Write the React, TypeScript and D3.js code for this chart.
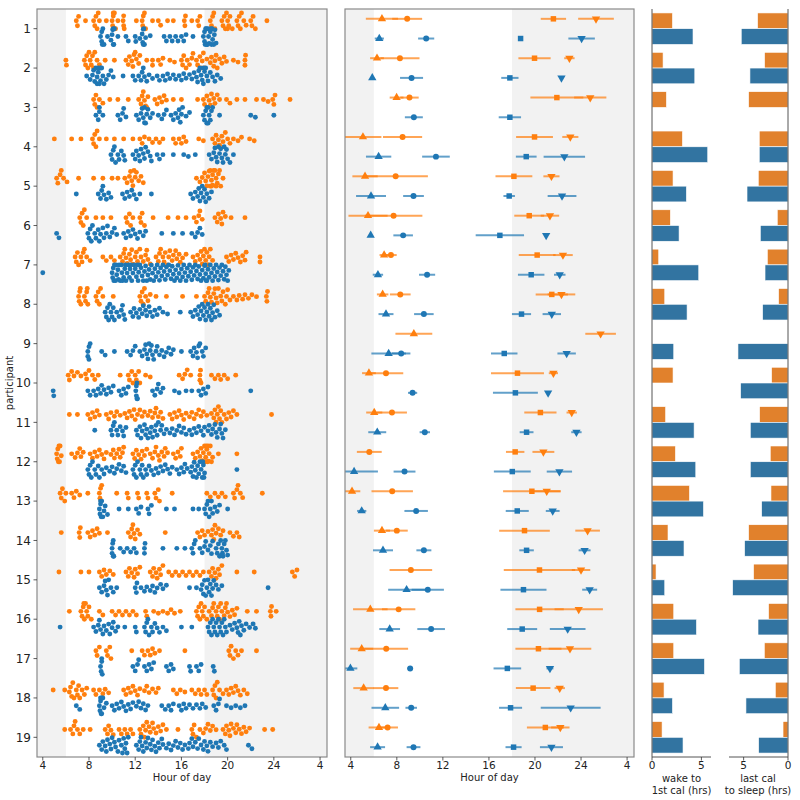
import React, { useMemo } from 'react';
import * as d3 from 'd3';

// ---------------- DATA ----------------
const participants = [1, 2, 3, 4, 5, 6, 7, 8, 9, 10, 11, 12, 13, 14, 15, 16, 17, 18, 19];
const hourTicks = [4, 8, 12, 16, 20, 24, 28];
const hourTickLabels = ['4', '8', '12', '16', '20', '24', '4'];
const barTicks = [0, 5];

// Swarm: times of each calorie event (hours; >24 = after midnight)
const orangeTimes: number[][] = [
  [6.9, 7.0, 7.1, 7.7, 8.4, 8.5, 8.6, 8.7, 8.8, 8.9, 9.5, 10.0, 10.05, 10.1, 10.1, 10.15, 10.2, 10.3, 10.5, 10.95, 11.0, 11.0, 11.05, 12.1, 12.6, 12.65, 12.7, 12.75, 12.8, 12.9, 13.5, 14.0, 14.2, 14.8, 15.3, 16.25, 16.3, 16.35, 16.9, 17.4, 17.5, 17.6, 18.5, 18.6, 18.7, 18.8, 18.9, 19.5, 19.6, 19.7, 19.8, 19.9, 20.0, 20.0, 20.1, 20.2, 20.4, 20.8, 20.9, 21.0, 21.1, 21.2, 21.4, 21.6, 22.0, 22.1, 22.2, 22.4, 23.4],
  [6.0, 6.05, 7.6, 7.7, 7.8, 7.9, 8.0, 8.1, 8.2, 8.3, 8.4, 8.5, 8.7, 8.9, 9.4, 10.2, 11.2, 11.4, 11.5, 11.7, 11.8, 11.9, 12.0, 12.1, 12.3, 12.4, 13.0, 13.5, 13.5, 14.0, 14.2, 14.4, 15.0, 15.4, 16.0, 16.1, 16.2, 16.4, 16.5, 16.7, 16.9, 17.0, 17.3, 17.4, 17.6, 17.7, 17.8, 17.9, 18.0, 18.2, 18.5, 18.6, 18.8, 18.9, 19.0, 19.1, 19.3, 19.5, 19.7, 19.9, 20.5, 20.9, 21.5, 21.5, 21.55],
  [8.4, 8.5, 8.6, 8.7, 8.9, 9.2, 9.8, 10.5, 11.4, 12.3, 12.5, 12.6, 12.7, 12.8, 12.9, 13.0, 13.1, 13.7, 13.9, 14.1, 14.3, 14.5, 14.7, 15.3, 16.0, 17.4, 17.9, 18.0, 18.2, 18.4, 18.5, 18.6, 18.8, 18.9, 19.1, 19.3, 19.9, 20.2, 20.8, 21.5, 22.5, 23.1, 23.5, 23.9, 24.0, 24.1, 25.4],
  [5.0, 6.5, 7.3, 8.3, 8.4, 8.5, 8.6, 8.7, 8.9, 9.5, 10.2, 11.0, 11.8, 12.4, 12.6, 12.8, 13.2, 13.5, 13.8, 14.1, 14.4, 15.3, 15.5, 15.8, 16.0, 16.2, 16.4, 17.5, 17.9, 18.7, 18.9, 19.0, 19.2, 19.3, 19.5, 19.6, 19.8, 20.0, 20.2, 20.5, 20.9, 21.2, 21.9, 22.3],
  [5.2, 5.3, 5.5, 5.6, 5.8, 6.1, 7.1, 8.4, 9.2, 10.0, 10.5, 11.1, 11.3, 11.5, 11.6, 11.7, 11.8, 11.9, 12.0, 12.1, 12.3, 12.5, 12.7, 17.3, 17.6, 17.8, 18.0, 18.1, 18.2, 18.3, 18.4, 18.5, 18.5, 18.6, 18.6, 18.7, 18.7, 18.8, 18.9, 19.0, 19.0, 19.1, 19.2, 19.3, 19.4, 19.6],
  [7.2, 7.3, 7.4, 7.5, 7.6, 7.8, 8.6, 9.2, 9.9, 11.2, 11.3, 11.5, 11.6, 11.8, 12.4, 12.5, 12.6, 12.8, 13.55, 14.85, 15.7, 16.4, 17.1, 17.3, 17.5, 17.6, 17.8, 18.9, 19.1, 19.2, 19.4, 19.5, 19.6, 19.8, 20.3, 21.5],
  [6.8, 6.9, 7.0, 7.1, 7.3, 7.4, 7.5, 7.6, 7.8, 8.1, 9.2, 9.5, 9.9, 10.2, 10.7, 10.9, 11.0, 11.1, 11.2, 11.3, 11.5, 11.6, 11.7, 11.8, 12.0, 12.1, 12.2, 12.4, 12.5, 12.7, 12.9, 13.0, 13.1, 13.3, 13.8, 14.0, 14.1, 14.2, 14.4, 14.5, 14.6, 14.8, 14.9, 15.0, 15.2, 15.3, 15.5, 15.6, 15.8, 15.9, 16.1, 16.4, 17.0, 17.2, 17.4, 17.6, 17.7, 17.8, 17.9, 18.0, 18.1, 18.2, 18.3, 18.4, 18.5, 18.7, 19.9, 20.1, 20.3, 20.5, 20.7, 20.9, 21.1, 21.3, 21.5, 21.6, 22.8, 22.8],
  [7.1, 7.15, 7.2, 7.25, 7.3, 7.6, 7.7, 7.8, 7.85, 7.9, 8.6, 8.7, 8.8, 8.9, 9.0, 9.2, 10.1, 12.4, 12.5, 12.6, 12.7, 12.8, 12.9, 13.1, 13.3, 13.8, 14.7, 16.1, 17.3, 18.0, 18.1, 18.3, 18.4, 18.5, 18.6, 18.8, 18.9, 19.0, 19.1, 19.2, 19.4, 19.5, 19.6, 19.8, 19.9, 20.0, 20.2, 20.5, 20.8, 21.0, 21.3, 21.5, 21.8, 22.1, 22.5, 23.35, 23.4, 23.45],
  [],
  [6.2, 6.3, 6.5, 6.7, 7.0, 7.3, 7.7, 7.8, 8.0, 8.3, 8.5, 8.8, 10.7, 11.4, 11.5, 11.7, 11.8, 12.0, 12.1, 12.3, 12.4, 12.9, 13.3, 15.8, 16.1, 16.3, 16.5, 16.8, 17.6, 17.6, 17.65, 17.7, 18.6, 18.9, 19.2, 19.4, 19.7, 20.0, 20.7],
  [6.3, 7.0, 7.9, 8.1, 8.3, 8.5, 8.7, 8.9, 9.5, 9.7, 9.9, 10.2, 10.4, 10.7, 11.1, 11.3, 11.5, 11.7, 11.9, 12.0, 12.2, 12.4, 12.6, 12.8, 13.1, 13.3, 13.5, 13.7, 13.8, 14.0, 14.2, 14.4, 15.0, 15.2, 15.4, 15.6, 15.8, 16.0, 16.2, 16.4, 16.7, 16.9, 17.1, 17.3, 17.5, 17.7, 17.9, 18.2, 18.6, 18.8, 18.9, 19.0, 19.1, 19.2, 19.3, 19.4, 19.5, 19.7, 19.9, 20.1, 20.3, 20.5, 20.8, 23.8],
  [5.2, 5.25, 5.3, 5.35, 5.4, 5.45, 5.5, 5.6, 6.5, 6.8, 7.0, 7.2, 7.3, 7.5, 8.1, 8.3, 8.5, 8.7, 8.9, 9.1, 9.3, 9.5, 9.9, 10.1, 10.2, 10.4, 10.6, 10.7, 10.9, 11.0, 11.8, 11.95, 12.1, 12.3, 12.5, 12.6, 12.8, 13.0, 13.3, 13.5, 13.7, 13.8, 14.0, 14.1, 14.3, 14.5, 14.6, 14.8, 15.3, 15.5, 15.7, 15.9, 16.0, 17.0, 17.2, 17.4, 17.6, 17.7, 17.8, 17.9, 18.0, 18.05, 18.1, 18.15, 18.2, 18.25, 18.3, 18.35, 18.4, 18.5, 18.6, 18.7, 19.2, 20.8],
  [5.5, 5.6, 5.7, 5.9, 6.0, 6.5, 6.7, 6.9, 7.2, 7.9, 8.9, 8.95, 9.0, 9.05, 9.1, 10.4, 11.3, 11.4, 12.2, 12.3, 13.0, 13.1, 13.7, 13.8, 14.0, 14.1, 15.2, 18.2, 18.5, 18.9, 19.2, 19.5, 19.8, 20.5, 20.6, 20.8, 20.9, 21.1, 21.3, 23.0],
  [5.6, 7.15, 7.2, 7.25, 7.9, 8.1, 8.3, 8.5, 8.7, 8.9, 9.6, 11.4, 11.6, 11.7, 11.8, 11.9, 12.0, 12.2, 12.4, 14.6, 17.4, 17.6, 17.8, 18.0, 18.3, 18.6, 18.7, 18.8, 18.9, 19.0, 19.2, 19.4, 19.6, 20.2, 20.5, 20.8, 21.0],
  [5.4, 7.3, 8.0, 8.9, 9.1, 9.3, 9.5, 9.8, 10.1, 11.2, 11.4, 11.5, 11.7, 11.9, 12.0, 12.2, 12.4, 13.3, 13.5, 13.6, 13.8, 13.9, 14.1, 14.2, 14.4, 14.9, 15.2, 15.5, 15.8, 16.1, 16.4, 16.7, 17.0, 17.3, 17.6, 17.9, 18.4, 18.6, 18.7, 18.9, 19.0, 19.2, 19.3, 19.5, 20.8, 22.3, 25.6, 25.8, 26.0],
  [6.3, 7.3, 7.4, 7.5, 7.55, 7.6, 7.7, 7.8, 7.9, 8.0, 8.2, 8.9, 9.2, 10.0, 10.3, 10.6, 10.9, 11.2, 11.5, 11.8, 12.1, 12.9, 13.0, 13.6, 14.0, 14.4, 14.8, 15.1, 15.4, 15.9, 17.3, 17.4, 17.5, 17.6, 17.7, 17.8, 17.9, 18.0, 18.2, 18.4, 18.6, 18.7, 18.8, 19.0, 19.1, 19.2, 19.3, 19.4, 19.5, 19.7, 19.8, 19.9, 20.0, 20.2, 20.4, 20.6, 20.8, 21.7, 22.5, 23.7, 23.75, 23.8, 24.2],
  [8.6, 8.7, 8.9, 9.5, 9.6, 9.8, 9.9, 11.7, 12.6, 12.8, 13.1, 13.3, 13.5, 13.7, 14.1, 16.3, 20.1, 20.2, 20.3, 20.5, 20.7, 20.9, 21.2, 22.5],
  [4.9, 5.9, 6.3, 6.4, 6.5, 6.6, 6.7, 6.9, 7.0, 7.1, 7.2, 7.4, 7.6, 7.8, 8.4, 8.6, 8.9, 9.2, 9.4, 9.7, 11.0, 11.2, 11.4, 11.6, 11.8, 12.0, 12.2, 12.4, 12.8, 13.0, 13.2, 13.5, 13.8, 14.0, 15.3, 15.6, 15.9, 16.3, 16.9, 17.2, 17.5, 17.7, 18.0, 18.2, 18.7, 18.8, 18.9, 19.0, 19.1, 19.3, 19.6, 19.9, 20.1, 20.3, 20.5, 20.7, 20.9, 21.1, 21.4, 21.7],
  [5.9, 6.4, 6.6, 6.7, 6.8, 7.0, 7.2, 7.5, 8.1, 9.4, 9.6, 9.7, 9.9, 10.1, 10.6, 10.8, 11.1, 11.3, 11.6, 11.8, 12.4, 12.5, 12.7, 12.8, 12.9, 13.0, 13.2, 13.3, 13.5, 13.6, 13.8, 14.0, 14.2, 14.4, 14.7, 15.7, 16.9, 17.0, 17.1, 17.3, 17.6, 17.9, 18.1, 18.3, 18.5, 18.7, 19.0, 19.6, 19.8, 19.9, 20.1, 20.2, 20.3, 20.5, 20.7, 20.8, 21.0, 21.2, 21.4, 21.6, 21.9, 23.2, 23.9],
];

const blueTimes: number[][] = [
  [9.0, 9.1, 9.1, 9.15, 9.2, 9.3, 9.6, 9.9, 10.0, 10.05, 10.1, 10.1, 10.15, 10.2, 10.5, 11.2, 11.4, 12.0, 12.05, 12.4, 12.6, 12.65, 12.7, 12.7, 12.75, 12.8, 12.9, 13.3, 14.5, 14.7, 15.0, 15.2, 15.5, 15.7, 16.0, 16.2, 16.4, 17.0, 17.9, 18.0, 18.0, 18.05, 18.1, 18.15, 18.2, 18.25, 18.3, 18.35, 18.4, 18.5, 18.55, 18.6, 18.65, 18.7, 18.8, 18.85, 18.9, 19.0],
  [7.8, 8.1, 8.3, 8.4, 8.5, 8.6, 8.7, 8.7, 8.8, 8.8, 8.9, 9.0, 9.0, 9.1, 9.2, 9.3, 9.5, 9.7, 9.9, 10.1, 10.95, 11.8, 12.0, 12.3, 12.5, 12.6, 12.7, 12.8, 13.0, 13.2, 13.5, 13.9, 14.1, 14.4, 14.6, 14.8, 15.0, 15.3, 15.5, 15.8, 16.0, 16.2, 16.4, 16.7, 16.9, 17.1, 17.3, 17.4, 17.5, 17.6, 17.7, 17.8, 17.9, 17.9, 18.0, 18.1, 18.2, 18.3, 18.5, 18.7, 18.9, 19.1, 19.4],
  [8.6, 8.8, 8.9, 8.9, 9.2, 10.5, 10.7, 10.9, 11.0, 11.2, 12.1, 12.3, 12.5, 12.6, 12.7, 12.8, 12.8, 12.9, 13.0, 13.1, 13.3, 13.5, 14.0, 14.3, 14.5, 14.7, 15.1, 15.3, 15.5, 15.7, 15.8, 15.9, 16.0, 16.1, 16.4, 16.7, 17.9, 18.0, 18.1, 18.2, 18.2, 18.3, 18.3, 18.4, 18.5, 18.6, 18.7, 19.3, 22.0, 22.4, 24.0],
  [9.9, 10.0, 10.1, 10.2, 10.3, 10.5, 10.6, 10.8, 11.0, 11.1, 11.8, 12.0, 12.1, 12.3, 12.4, 12.5, 12.7, 12.8, 12.9, 13.1, 13.3, 13.4, 13.9, 14.1, 14.4, 15.3, 16.2, 16.6, 17.2, 18.4, 18.6, 18.8, 18.9, 19.0, 19.1, 19.2, 19.3, 19.4, 19.5, 19.6, 19.7, 19.8, 19.9, 20.0, 20.2, 20.5],
  [6.9, 8.8, 9.0, 9.1, 9.2, 9.3, 9.5, 9.7, 9.9, 10.9, 11.1, 11.3, 11.5, 11.7, 11.9, 12.1, 12.4, 13.4, 16.8, 17.0, 17.2, 17.4, 17.5, 17.6, 17.7, 17.8, 17.9, 18.0, 18.1, 18.2, 18.4, 18.6],
  [5.2, 5.4, 7.9, 8.0, 8.1, 8.2, 8.3, 8.5, 8.6, 8.8, 8.9, 9.0, 9.2, 9.3, 9.5, 9.6, 9.8, 10.0, 10.2, 10.4, 11.0, 11.2, 11.4, 11.6, 11.8, 12.0, 12.2, 12.4, 12.7, 12.9, 14.3, 15.3, 16.1, 16.9, 17.2, 17.4, 17.6, 17.8],
  [4.0, 10.0, 10.05, 10.1, 10.15, 10.2, 10.3, 10.35, 10.4, 10.5, 10.55, 10.6, 10.7, 10.8, 10.85, 10.9, 11.0, 11.1, 11.15, 11.2, 11.3, 11.4, 11.5, 11.55, 11.6, 11.7, 11.8, 11.9, 12.0, 12.1, 12.2, 12.25, 12.3, 12.4, 12.5, 12.6, 12.7, 12.8, 12.9, 13.0, 13.1, 13.2, 13.3, 13.4, 13.5, 13.6, 13.7, 13.8, 13.9, 14.0, 14.1, 14.2, 14.3, 14.4, 14.5, 14.6, 14.7, 14.8, 14.9, 15.0, 15.1, 15.2, 15.3, 15.4, 15.5, 15.6, 15.7, 15.8, 15.9, 16.0, 16.1, 16.2, 16.3, 16.4, 16.5, 16.6, 16.7, 16.8, 16.9, 17.0, 17.1, 17.2, 17.3, 17.4, 17.5, 17.6, 17.7, 17.8, 17.9, 18.0, 18.05, 18.1, 18.15, 18.2, 18.3, 18.4, 18.5, 18.6, 18.7, 18.8, 18.9, 19.0, 19.1, 19.2, 19.3, 19.4, 19.5, 19.6, 19.7, 19.8, 19.9, 20.0, 20.1],
  [9.4, 9.5, 9.6, 9.7, 9.8, 9.9, 10.0, 10.1, 10.2, 10.4, 10.6, 10.8, 10.9, 11.0, 11.1, 11.6, 11.8, 11.9, 12.1, 12.3, 12.4, 12.6, 12.7, 12.9, 13.0, 13.2, 13.3, 13.5, 13.7, 13.9, 14.1, 14.4, 14.8, 15.9, 16.8, 17.0, 17.2, 17.4, 17.5, 17.6, 17.7, 17.8, 17.9, 18.0, 18.1, 18.2, 18.3, 18.4, 18.5, 18.6, 18.7, 18.8, 18.9, 19.1, 19.3],
  [7.9, 7.9, 8.0, 8.0, 8.1, 9.1, 9.4, 10.2, 11.3, 11.6, 11.8, 12.0, 12.4, 12.6, 12.8, 12.9, 13.0, 13.1, 13.2, 13.3, 13.4, 13.5, 13.6, 13.8, 13.9, 14.1, 14.3, 14.5, 14.7, 14.9, 15.1, 15.3, 16.0, 16.8, 17.0, 17.1, 17.3, 17.4, 17.5, 17.6, 17.8, 17.9, 18.1],
  [4.9, 4.95, 7.9, 8.1, 8.4, 8.6, 8.8, 9.0, 9.1, 9.3, 9.5, 9.7, 9.9, 10.1, 10.6, 10.8, 11.0, 11.2, 11.4, 12.05, 12.1, 12.1, 12.15, 12.15, 12.2, 13.5, 13.7, 13.9, 14.0, 14.2, 14.4, 15.4, 15.8, 16.4, 16.9, 17.5, 17.7, 17.9, 18.1, 18.3, 22.0],
  [8.5, 9.9, 10.0, 10.1, 10.2, 10.4, 10.5, 10.7, 10.9, 11.0, 11.2, 12.1, 12.2, 12.4, 12.5, 12.6, 12.8, 12.9, 13.0, 13.1, 13.3, 13.4, 13.5, 13.7, 13.8, 13.9, 14.0, 14.2, 14.3, 14.5, 14.7, 15.0, 15.2, 15.4, 15.6, 15.8, 16.0, 16.2, 16.4, 16.7, 16.9, 17.1, 17.3, 17.5, 17.7, 17.9, 18.0, 18.3, 18.4, 18.6, 18.7, 18.9, 19.0, 19.1, 19.3, 19.4, 19.5, 19.6, 19.8],
  [7.9, 8.0, 8.1, 8.2, 8.3, 8.5, 8.6, 8.8, 8.9, 9.1, 9.3, 9.5, 9.8, 10.0, 10.2, 10.4, 10.6, 10.8, 11.0, 11.2, 11.8, 11.9, 12.0, 12.1, 12.2, 12.4, 12.5, 12.6, 12.7, 12.9, 13.0, 13.2, 13.4, 13.6, 13.8, 14.0, 14.2, 14.4, 14.6, 14.8, 15.0, 15.2, 15.6, 15.8, 16.0, 16.2, 16.3, 16.5, 16.8, 16.9, 17.0, 17.1, 17.2, 17.3, 17.4, 17.5, 17.6, 17.7, 17.8, 17.85, 17.9, 17.95, 18.0, 20.8],
  [8.9, 8.95, 9.0, 9.0, 9.05, 9.1, 9.2, 9.3, 9.4, 9.6, 10.6, 11.4, 12.1, 12.3, 12.5, 13.1, 13.2, 13.4, 14.7, 15.4, 17.0, 17.5, 18.0, 18.1, 18.2, 18.3, 18.4, 18.5, 18.6, 18.7, 18.9, 19.1, 19.3, 20.0],
  [10.0, 10.0, 10.05, 10.1, 10.1, 10.15, 10.7, 11.0, 11.3, 11.6, 11.9, 12.1, 12.8, 12.8, 12.85, 14.4, 15.6, 16.3, 16.9, 17.0, 17.1, 17.2, 17.6, 17.8, 18.0, 18.1, 18.3, 18.5, 18.6, 18.7, 19.0, 19.1, 19.2, 19.3, 19.4, 19.5, 19.55, 19.6, 19.7, 19.8, 19.9, 20.0],
  [8.9, 9.1, 9.3, 9.4, 9.5, 9.6, 9.7, 9.9, 10.1, 10.4, 12.0, 12.1, 12.15, 12.5, 12.8, 13.0, 13.3, 13.5, 13.7, 13.9, 14.2, 14.4, 14.7, 16.7, 17.3, 17.7, 17.8, 17.9, 18.0, 18.1, 18.2, 18.3, 18.4, 18.5, 18.6, 18.7, 18.8, 19.0, 19.2, 19.5, 23.5],
  [5.5, 8.4, 8.6, 8.8, 8.9, 9.0, 9.2, 9.3, 9.5, 9.7, 9.8, 10.0, 10.1, 10.3, 10.5, 11.1, 12.0, 12.1, 12.8, 12.9, 13.0, 13.1, 13.2, 13.4, 13.5, 13.7, 13.9, 14.1, 14.4, 14.7, 16.0, 16.9, 18.3, 18.4, 18.5, 18.6, 18.7, 18.8, 18.9, 19.0, 19.1, 19.2, 19.3, 19.4, 19.5, 19.6, 19.7, 19.8, 19.9, 20.2, 20.4, 20.6, 20.8, 20.9, 21.0, 21.1, 21.2, 21.4, 21.6, 21.9, 22.2, 22.4],
  [9.0, 9.05, 9.1, 9.1, 9.15, 11.8, 12.0, 12.2, 12.3, 12.8, 13.0, 13.2, 13.4, 13.6, 14.7, 14.9, 15.1, 15.3, 16.7, 16.8, 17.3, 17.5, 17.7, 18.75, 18.85],
  [6.9, 7.2, 8.9, 8.95, 9.0, 9.0, 9.05, 9.1, 9.1, 9.2, 9.3, 9.5, 10.0, 10.2, 10.4, 10.6, 10.8, 11.0, 11.2, 11.4, 11.6, 11.8, 12.1, 12.3, 12.5, 12.7, 12.9, 13.1, 14.3, 14.6, 14.9, 15.1, 15.3, 15.8, 16.0, 16.2, 16.4, 16.7, 17.0, 17.3, 17.6, 17.8, 18.1, 18.8, 19.0, 19.2, 19.3, 19.9, 20.3, 20.7, 21.1, 21.5],
  [8.9, 9.1, 9.2, 9.4, 9.5, 9.6, 9.8, 9.9, 10.0, 10.2, 10.3, 10.5, 10.6, 10.8, 10.9, 11.0, 11.1, 11.2, 11.3, 11.4, 12.1, 12.3, 12.4, 12.5, 12.6, 12.7, 12.9, 13.0, 13.1, 13.3, 13.4, 13.5, 13.7, 13.8, 14.0, 14.1, 14.3, 14.4, 14.7, 14.9, 15.1, 15.3, 15.5, 15.7, 15.9, 16.1, 16.3, 16.6, 16.7, 16.9, 17.0, 17.2, 17.4, 17.5, 17.7, 17.9, 18.0, 18.2, 18.3, 18.5, 18.7, 19.0, 19.2, 19.4, 19.7, 19.9, 21.8, 22.1],
];

// Summary panel: mean and spread for wake, first cal, last cal, sleep
type N = number | null;
const orangeWake: N[] = [6.71, 6.28, 7.98, 5.06, 5.24, 5.5, 6.9, 6.77, 9.48, 5.58, 6.04, null, 4.11, 6.71, null, 5.7, 4.95, 5.12, 6.45];
const orangeWakeErr: N[] = [1.4, 0.6, 0.6, 1.6, 1.1, 1.7, 0.4, 0.5, 1.6, 0.6, 0.7, null, 0.72, 0.7, null, 1.5, 1.0, 0.9, 0.9];
const orangeFirst: N[] = [8.9, 8.27, 9.1, 8.5, 7.9, 7.72, 7.49, 8.3, null, 7.06, 7.58, 5.61, 7.6, 8.0, 9.22, 8.16, 7.08, 7.06, 7.2];
const orangeFirstErr: N[] = [1.3, 1.7, 0.8, 1.7, 2.8, 2.5, 0.5, 0.9, null, 1.5, 1.3, 1.08, 1.8, 0.95, 1.85, 1.45, 1.9, 1.07, 0.9];
const orangeLast: N[] = [21.6, 19.96, 21.9, 19.96, 18.17, 19.5, 20.19, 21.46, null, 18.48, 20.47, 18.28, 19.73, 19.09, 20.39, 20.4, 20.3, 19.84, 20.9];
const orangeLastErr: N[] = [1.1, 1.4, 2.3, 1.6, 1.6, 1.3, 1.6, 1.4, null, 2.3, 1.4, 0.8, 2.5, 2.2, 3.1, 2.1, 2.0, 1.5, 1.6];
const orangeSleep: N[] = [25.3, 22.99, 24.8, 23.07, 21.43, 21.3, 22.43, 22.3, 25.7, 21.6, 23.19, 20.73, 21.02, 24.57, 24.0, 23.8, 23.04, 22.15, 22.2];
const orangeSleepErr: N[] = [1.55, 0.45, 1.4, 0.7, 0.7, 0.8, 0.85, 1.2, 1.33, 0.4, 0.45, 0.95, 1.2, 1.07, 0.8, 2.1, 1.85, 0.45, 0.8];

const blueWake: N[] = [6.48, 5.87, null, 6.42, 5.76, 5.73, 6.36, 7.06, 7.29, null, 6.3, 4.29, 4.95, 6.8, 8.85, 7.38, 3.97, 7.0, 6.33];
const blueWakeErr: N[] = [0.4, 0.05, null, 1.1, 1.3, 0.1, 0.45, 0.65, 1.5, null, 0.78, 2.07, 0.4, 0.87, 1.6, 0.9, 0.6, 1.2, 0.65];
const blueFirst: N[] = [10.55, 9.28, 9.48, 11.4, 9.45, 8.55, 10.63, 10.35, 8.38, 9.37, 10.43, 8.67, 9.68, 10.35, 10.69, 10.98, 9.16, 9.25, 9.45];
const blueFirstErr: N[] = [0.7, 1.0, 0.78, 1.2, 0.9, 0.85, 0.7, 0.85, 0.8, 0.4, 0.45, 0.95, 1.02, 0.65, 1.4, 1.2, 0.25, 0.5, 0.6];
const blueLast: N[] = [18.75, 17.82, 17.82, 19.24, 17.76, 16.95, 19.67, 18.83, 17.33, 18.3, 19.27, 18.03, 18.46, 19.27, 19.0, 18.89, 17.6, 17.88, 18.14];
const blueLastErr: N[] = [0.1, 0.75, 0.97, 0.9, 0.5, 2.1, 1.15, 0.83, 1.15, 1.95, 0.6, 1.6, 1.0, 0.63, 2.0, 1.3, 1.2, 1.0, 0.7];
const blueSleep: N[] = [24.05, 22.3, null, 22.55, 22.35, 20.97, 22.15, 21.46, 22.75, 21.14, 23.6, 22.12, 21.54, 24.31, 24.75, 22.84, 21.3, 23.1, 21.43];
const blueSleepErr: N[] = [1.15, 0.1, null, 1.8, 1.25, 0.1, 0.5, 0.8, 0.8, 0.1, 0.45, 1.1, 0.6, 0.52, 0.65, 1.55, 0.3, 2.6, 1.0];

// Bar panels (hours)
const wakeToFirstOrange: N[] = [2.07, 1.12, 1.46, 3.08, 2.13, 1.86, 0.68, 1.29, null, 2.13, 1.38, 2.37, 3.79, 1.62, 0.41, 2.2, 2.2, 1.22, 1.02];
const wakeToFirstBlue: N[] = [4.15, 4.33, null, 5.64, 3.48, 2.74, 4.73, 3.55, 2.2, null, 4.26, 4.43, 5.21, 3.24, 1.29, 4.5, 5.31, 2.07, 3.14];
const lastToSleepOrange: N[] = [3.43, 2.64, 4.44, 3.24, 3.35, 1.21, 2.33, 1.06, null, 1.85, 3.2, 2.0, 1.92, 4.44, 3.88, 2.19, 2.67, 1.43, 0.56];
const lastToSleepBlue: N[] = [5.27, 4.29, null, 3.24, 4.62, 3.12, 2.59, 2.86, 5.64, 5.34, 4.25, 4.25, 2.97, 4.89, 6.24, 3.38, 5.49, 4.74, 3.31];

// ---------------- STYLE ----------------
const ORANGE = '#ff7f0e';
const BLUE = '#1f77b4';
const BAR_ORANGE = '#e1812c';
const BAR_BLUE = '#3274a1';
const SHADE = '#f2f2f2';
const FRAME = '#8a8a8a';
const FONT = 'DejaVu Sans, sans-serif';

const TOP = 9;
const BOTTOM = 757;

function beeswarm(xs: number[], diam: number, maxOff: number): number[] {
  const idx = xs.map((_, i) => i).sort((a, b) => xs[a] - xs[b]);
  const placed: { x: number; y: number }[] = [];
  const out: number[] = new Array(xs.length).fill(0);
  for (const i of idx) {
    const x = xs[i];
    const near = placed.filter((p) => Math.abs(p.x - x) < diam);
    const cands = [0];
    for (const p of near) {
      const dy = Math.sqrt(Math.max(0, diam * diam - (p.x - x) * (p.x - x)));
      cands.push(p.y + dy, p.y - dy);
    }
    cands.sort((a, b) => Math.abs(a) - Math.abs(b));
    let chosen = cands[cands.length - 1];
    for (const c of cands) {
      if (near.every((p) => (p.x - x) ** 2 + (p.y - c) ** 2 >= diam * diam - 1e-6)) {
        chosen = c;
        break;
      }
    }
    placed.push({ x, y: chosen });
    out[i] = Math.max(-maxOff, Math.min(maxOff, chosen));
  }
  return out;
}

export default function App() {
  const y = d3.scaleLinear().domain([0.5, 19.5]).range([TOP, BOTTOM]);
  const x1 = d3.scaleLinear().domain([3.5, 28.6]).range([37, 327]);
  const x2 = d3.scaleLinear().domain([3.5, 28.6]).range([345, 634]);
  const x3 = d3.scaleLinear().domain([0, 5.97]).range([652, 711]);
  const x4 = d3.scaleLinear().domain([0, 6.65]).range([788, 729]);
  const unit = y(1) - y(0);

  const swarm = useMemo(() => {
    const pts: { cx: number; cy: number; c: string }[] = [];
    participants.forEach((p, i) => {
      [
        { times: orangeTimes[i], off: -0.2, c: ORANGE },
        { times: blueTimes[i], off: 0.2, c: BLUE },
      ].forEach((g) => {
        const xs = g.times.map((t) => x1(t));
        const offs = beeswarm(xs, 5, 0.2 * unit);
        xs.forEach((cx, k) => pts.push({ cx, cy: y(p + g.off) + offs[k], c: g.c }));
      });
    });
    return pts;
  }, []);

  const triUp = d3.symbol().type(d3.symbolTriangle).size(30)()!;
  const circ = d3.symbol().type(d3.symbolCircle).size(28)()!;
  const sq = d3.symbol().type(d3.symbolSquare).size(30)()!;

  const summarySeries = [
    { m: orangeWake, e: orangeWakeErr, c: ORANGE, off: -0.25, path: triUp, rot: 0 },
    { m: orangeFirst, e: orangeFirstErr, c: ORANGE, off: -0.25, path: circ, rot: 0 },
    { m: orangeLast, e: orangeLastErr, c: ORANGE, off: -0.25, path: sq, rot: 0 },
    { m: orangeSleep, e: orangeSleepErr, c: ORANGE, off: -0.25, path: triUp, rot: 180 },
    { m: blueWake, e: blueWakeErr, c: BLUE, off: 0.25, path: triUp, rot: 0 },
    { m: blueFirst, e: blueFirstErr, c: BLUE, off: 0.25, path: circ, rot: 0 },
    { m: blueLast, e: blueLastErr, c: BLUE, off: 0.25, path: sq, rot: 0 },
    { m: blueSleep, e: blueSleepErr, c: BLUE, off: 0.25, path: triUp, rot: 180 },
  ];

  const shading = (xs: d3.ScaleLinear<number, number>) => (
    <g>
      <rect x={xs(3.5)} y={TOP} width={xs(6) - xs(3.5)} height={BOTTOM - TOP} fill={SHADE} />
      <rect x={xs(18)} y={TOP} width={xs(28.6) - xs(18)} height={BOTTOM - TOP} fill={SHADE} />
    </g>
  );

  const hourAxis = (xs: d3.ScaleLinear<number, number>) => (
    <g>
      {hourTicks.map((t, i) => (
        <g key={t}>
          <line x1={xs(t)} x2={xs(t)} y1={BOTTOM} y2={BOTTOM + 3.5} stroke="#333" strokeWidth={0.8} />
          <text x={xs(t)} y={769} textAnchor="middle" fontSize={10.5} fontFamily={FONT} fill="#222">
            {hourTickLabels[i]}
          </text>
        </g>
      ))}
      <text x={(xs.range()[0] + xs.range()[1]) / 2} y={781} textAnchor="middle" fontSize={10} fontFamily={FONT} fill="#222">
        Hour of day
      </text>
    </g>
  );

  const bars = (xs: d3.ScaleLinear<number, number>, ov: N[], bv: N[]) => (
    <g>
      {participants.map((p, i) => (
        <g key={p}>
          {ov[i] != null && (
            <rect
              x={Math.min(xs(0), xs(ov[i] as number))}
              y={y(p - 0.4)}
              width={Math.abs(xs(ov[i] as number) - xs(0))}
              height={y(p) - y(p - 0.4)}
              fill={BAR_ORANGE}
              stroke="#fff"
              strokeWidth={0.6}
            />
          )}
          {bv[i] != null && (
            <rect
              x={Math.min(xs(0), xs(bv[i] as number))}
              y={y(p)}
              width={Math.abs(xs(bv[i] as number) - xs(0))}
              height={y(p + 0.4) - y(p)}
              fill={BAR_BLUE}
              stroke="#fff"
              strokeWidth={0.6}
            />
          )}
        </g>
      ))}
    </g>
  );

  return (
    <svg width={800} height={800} style={{ position: 'absolute', left: 0, top: 0, background: '#fff' }}>
      <defs>
        <clipPath id="clip1">
          <rect x={37} y={TOP} width={290} height={BOTTOM - TOP} />
        </clipPath>
        <clipPath id="clip2">
          <rect x={345} y={TOP} width={289} height={BOTTOM - TOP} />
        </clipPath>
      </defs>

      {/* Panel 1: swarm */}
      {shading(x1)}
      <g clipPath="url(#clip1)">
        {swarm.map((d, i) => (
          <circle key={i} cx={d.cx} cy={d.cy} r={2.45} fill={d.c} />
        ))}
      </g>
      <rect x={37} y={TOP} width={290} height={BOTTOM - TOP} fill="none" stroke={FRAME} strokeWidth={1.2} />
      {participants.map((p) => (
        <g key={p}>
          <line x1={33.5} x2={37} y1={y(p)} y2={y(p)} stroke="#333" strokeWidth={0.8} />
          <text x={31} y={y(p) + 4.2} textAnchor="end" fontSize={12} fontFamily={FONT} fill="#222">
            {p}
          </text>
        </g>
      ))}
      <text transform={`translate(13, ${(TOP + BOTTOM) / 2}) rotate(-90)`} textAnchor="middle" fontSize={10} fontFamily={FONT} fill="#222">
        participant
      </text>
      {hourAxis(x1)}

      {/* Panel 2: summary */}
      {shading(x2)}
      <g clipPath="url(#clip2)">
        {summarySeries.map((s, si) =>
          participants.map((p, i) => {
            const m = s.m[i];
            if (m == null) return null;
            const e = s.e[i] ?? 0;
            const cy = y(p + s.off);
            return (
              <line key={`l${si}-${p}`} x1={x2(m - e)} x2={x2(m + e)} y1={cy} y2={cy} stroke={s.c} strokeWidth={2} strokeOpacity={0.7} />
            );
          })
        )}
        {summarySeries.map((s, si) =>
          participants.map((p, i) => {
            const m = s.m[i];
            if (m == null) return null;
            const cy = y(p + s.off);
            return (
              <path key={`m${si}-${p}`} d={s.path} transform={`translate(${x2(m)},${cy}) rotate(${s.rot})`} fill={s.c} />
            );
          })
        )}
      </g>
      <rect x={345} y={TOP} width={289} height={BOTTOM - TOP} fill="none" stroke={FRAME} strokeWidth={1.2} />
      {hourAxis(x2)}

      {/* Panel 3: wake to first cal */}
      {bars(x3, wakeToFirstOrange, wakeToFirstBlue)}
      <line x1={652} x2={652} y1={TOP} y2={BOTTOM} stroke="#555" strokeWidth={1} />
      <line x1={652} x2={711} y1={BOTTOM} y2={BOTTOM} stroke="#555" strokeWidth={1} />
      {barTicks.map((t) => (
        <g key={t}>
          <line x1={x3(t)} x2={x3(t)} y1={BOTTOM} y2={BOTTOM + 3.5} stroke="#333" strokeWidth={0.8} />
          <text x={x3(t)} y={769} textAnchor="middle" fontSize={10.5} fontFamily={FONT} fill="#222">{t}</text>
        </g>
      ))}
      <text x={681.5} y={782} textAnchor="middle" fontSize={10} fontFamily={FONT} fill="#222">wake to</text>
      <text x={681.5} y={793.5} textAnchor="middle" fontSize={10} fontFamily={FONT} fill="#222">1st cal (hrs)</text>

      {/* Panel 4: last cal to sleep */}
      {bars(x4, lastToSleepOrange, lastToSleepBlue)}
      <line x1={788} x2={788} y1={TOP} y2={BOTTOM} stroke="#555" strokeWidth={1} />
      <line x1={729} x2={788} y1={BOTTOM} y2={BOTTOM} stroke="#555" strokeWidth={1} />
      {barTicks.map((t) => (
        <g key={t}>
          <line x1={x4(t)} x2={x4(t)} y1={BOTTOM} y2={BOTTOM + 3.5} stroke="#333" strokeWidth={0.8} />
          <text x={x4(t)} y={769} textAnchor="middle" fontSize={10.5} fontFamily={FONT} fill="#222">{t}</text>
        </g>
      ))}
      <text x={758} y={782} textAnchor="middle" fontSize={10} fontFamily={FONT} fill="#222">last cal</text>
      <text x={758} y={793.5} textAnchor="middle" fontSize={10} fontFamily={FONT} fill="#222">to sleep (hrs)</text>
    </svg>
  );
}
